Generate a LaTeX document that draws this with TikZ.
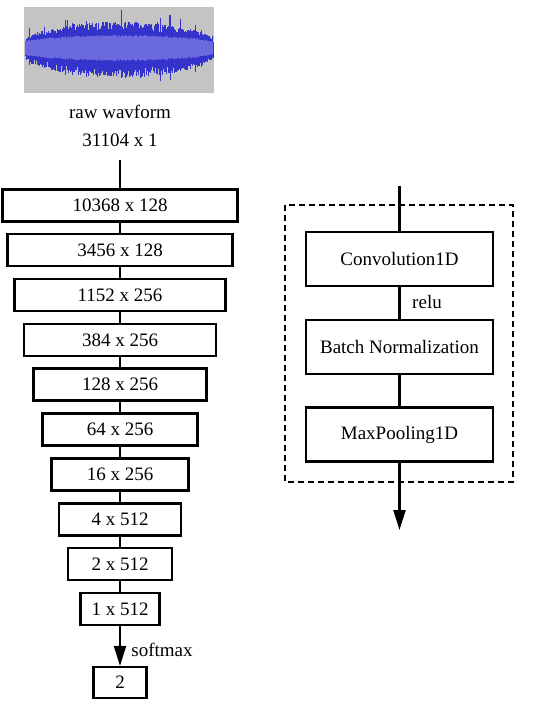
\documentclass[tikz,border=0pt]{standalone}
\usepackage{fontspec}
\setmainfont{Liberation Serif}
\usetikzlibrary{arrows.meta}
\definecolor{wavedark}{RGB}{52,52,205}
\definecolor{wavelight}{RGB}{106,106,222}
\definecolor{wavebg}{RGB}{196,196,196}
\tikzset{
  layer/.style={draw, line width=2.2pt, minimum height=32pt, inner sep=0pt, font=\fontsize{19}{21}\selectfont},
  block/.style={layer, minimum width=187pt, minimum height=54pt},
  lbl/.style={font=\fontsize{19}{21}\selectfont, inner sep=0pt},
  link/.style={line width=2.2pt},
  flow/.style={link, -{Triangle[length=20pt,width=12pt]}}
}
\begin{document}
\begin{tikzpicture}[x=1pt, y=-1pt]
    \useasboundingbox (0,0) rectangle (534,703);
    % waveform picture
    \fill[wavebg] (24,7) rectangle (214,93);
    \pgfmathsetseed{5}
    \foreach \x in {25,25.5,...,213}{
      \pgfmathsetmacro\env{6+17*sqrt(sin((\x-24)/190*180))}
      \pgfmathsetmacro\spk{rnd>0.93 ? 14*rnd : 0}
      \pgfmathsetmacro\up{\env*(0.75+0.4*rnd)+\spk}
      \pgfmathsetmacro\dn{\env*(0.85+0.45*rnd)+0.5*\spk}
      \draw[wavedark, line width=0.8pt] (\x,48-\up) -- (\x,48+\dn);
    }
    \foreach \x in {25,25.6,...,213}{
      \pgfmathsetmacro\band{4+7*sqrt(sin((\x-24)/190*180))+2*rnd}
      \draw[wavelight, line width=0.7pt] (\x,48-\band) -- (\x,48+\band);
    }
    \node[lbl] (cap) at (120,112) {raw wavform};
    \node[lbl] (dims) at (120,140) {31104 x 1};
    \coordinate (top) at (120,160);
    % layers
    \foreach \t/\w/\y [count=\i] in {10368 x 128/235/205.5, 3456 x 128/225/250,
        1152 x 256/211/295, 384 x 256/192/340, 128 x 256/173/384.5,
        64 x 256/155/429.5, 16 x 256/137/474.5, 4 x 512/122/519.5,
        2 x 512/104/564, 1 x 512/79/609}
      \node[layer, minimum width=\w pt] (l\i) at (120,\y) {\t};
    \node[layer, minimum width=53pt, minimum height=31pt] (outp) at (120,682.5) {2};
    \draw[link] (top) -- (l1);
    \foreach \i [evaluate=\i as \j using int(\i+1)] in {1,...,9}
      \draw[link] (l\i) -- (l\j);
    \draw[flow] (l10) -- (outp);
    \node[lbl] (sm) at (162,650) {softmax};
    % conv block
    \draw[line width=1.8pt, dash pattern=on 6pt off 4pt] (285,205) rectangle (513,482);
    \node[block] (conv) at (399.5,259) {Convolution1D};
    \node[block] (bn) at (399.5,347) {Batch Normalization};
    \node[block] (mp) at (399.5,434.5) {MaxPooling1D};
    \coordinate (in) at (399.5,186);
    \coordinate (out) at (399.5,530);
    \draw[link] (in) -- (conv);
    \draw[link] (conv) -- (bn);
    \draw[link] (bn) -- (mp);
    \draw[flow] (mp) -- (out);
    \node[lbl] (relu) at (427,302) {relu};
\end{tikzpicture}
\end{document}
